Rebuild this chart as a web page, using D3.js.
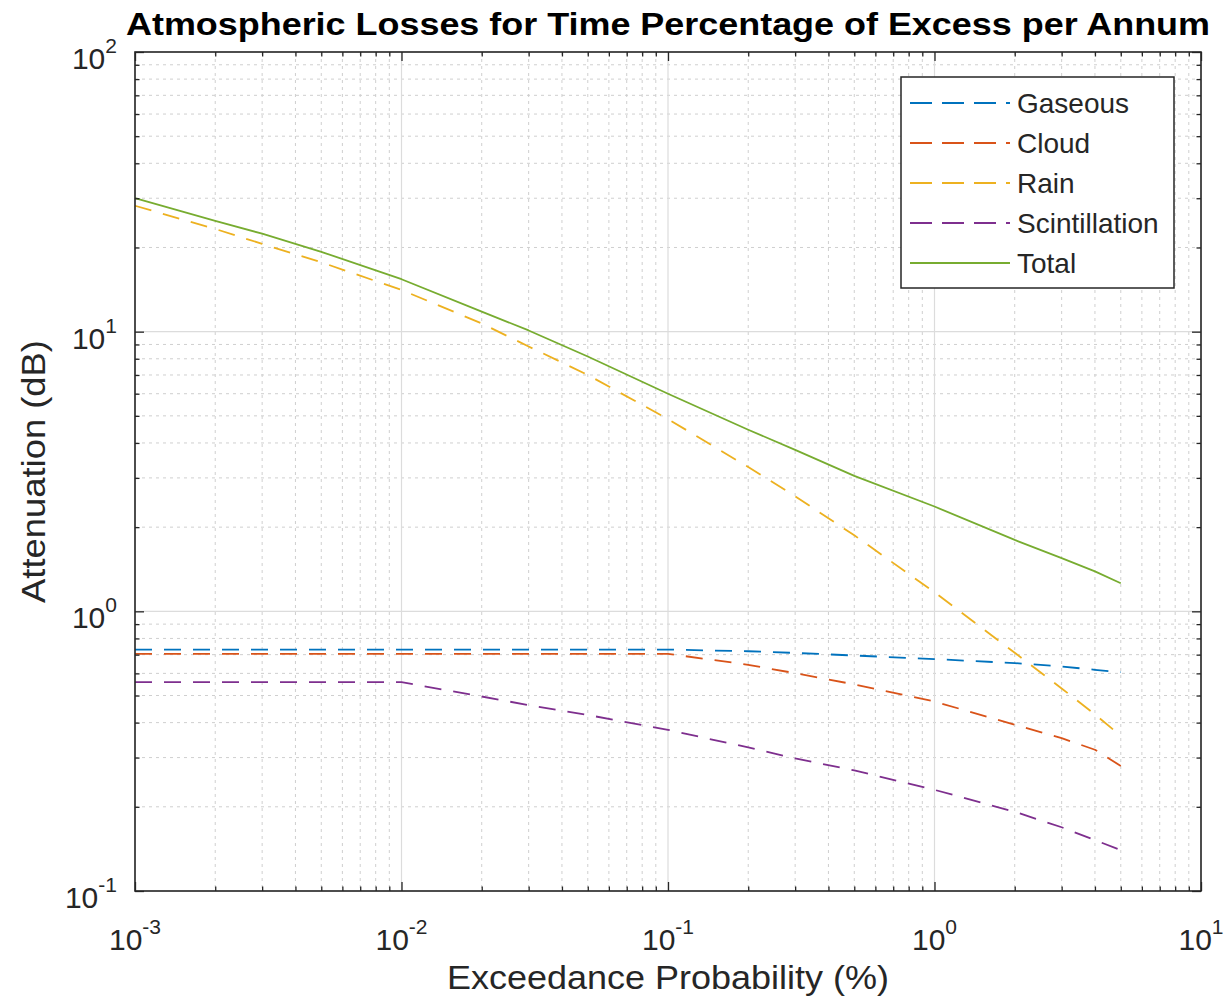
<!DOCTYPE html>
<html>
<head>
<meta charset="utf-8">
<script src="https://cdn.jsdelivr.net/npm/d3@7"></script>
<style>
  html, body { margin: 0; padding: 0; background: #ffffff; }
  svg { display: block; }
  text { font-family: "Liberation Sans", Arial, Helvetica, sans-serif; }
</style>
</head>
<body>
<svg id="chart" width="1228" height="1006"></svg>
<script>
// ---- data ----
const exceedance = [0.001, 0.002, 0.003, 0.005, 0.01, 0.02, 0.03, 0.05, 0.1, 0.2, 0.3, 0.5, 1, 2, 3, 4, 5];
const gaseous = [0.73, 0.73, 0.73, 0.73, 0.73, 0.73, 0.73, 0.73, 0.73, 0.72, 0.71, 0.695, 0.675, 0.653, 0.635, 0.618, 0.606];
const cloud = [0.705, 0.705, 0.705, 0.705, 0.705, 0.705, 0.705, 0.705, 0.705, 0.644, 0.601, 0.548, 0.476, 0.393, 0.352, 0.32, 0.28];
const rain = [28.2, 23.3, 20.6, 17.7, 14.1, 10.7, 8.85, 7.0, 4.87, 3.28, 2.58, 1.87, 1.17, 0.711, 0.53, 0.428, 0.359];
const scintillation = [0.558, 0.558, 0.558, 0.558, 0.558, 0.496, 0.462, 0.426, 0.377, 0.326, 0.298, 0.270, 0.230, 0.192, 0.169, 0.152, 0.140];
const total = [30.0, 24.9, 22.4, 19.3, 15.4, 11.8, 10.1, 8.15, 6.0, 4.46, 3.78, 3.05, 2.37, 1.80, 1.55, 1.39, 1.26];

const seriesNames = ["Gaseous", "Cloud", "Rain", "Scintillation", "Total"];
const seriesValues = [gaseous, cloud, rain, scintillation, total];
const seriesColors = ["#0072BD", "#D95319", "#EDB120", "#7E2F8E", "#77AC30"];
const seriesDashed = [true, true, true, true, false];

const xTickExps = [-3, -2, -1, 0, 1];
const yTickExps = [-1, 0, 1, 2];

const titleText = "Atmospheric Losses for Time Percentage of Excess per Annum";
const xLabelText = "Exceedance Probability (%)";
const yLabelText = "Attenuation (dB)";

// ---- layout ----
const L = 135, R = 1201, T = 52, B = 891;
const svg = d3.select("#chart");
const x = d3.scaleLog().domain([1e-3, 1e1]).range([L, R]);
const y = d3.scaleLog().domain([1e-1, 1e2]).range([B, T]);

const axisColor = "#262626";

function minors(lo, hi) {
  const out = [];
  for (let e = lo; e < hi; e++) for (let m = 2; m <= 9; m++) out.push(m * Math.pow(10, e));
  return out;
}
const xMinor = minors(-3, 1);
const yMinor = minors(-1, 2);
const xMajor = xTickExps.map(e => Math.pow(10, e));
const yMajor = yTickExps.map(e => Math.pow(10, e));

const g = svg.append("g");

// minor grid
g.append("g").selectAll("line").data(xMinor).join("line")
  .attr("x1", d => x(d)).attr("x2", d => x(d)).attr("y1", T).attr("y2", B)
  .attr("stroke", "#cfcfcf").attr("stroke-width", 1).attr("stroke-dasharray", "3,4");
g.append("g").selectAll("line").data(yMinor).join("line")
  .attr("y1", d => y(d)).attr("y2", d => y(d)).attr("x1", L).attr("x2", R)
  .attr("stroke", "#cfcfcf").attr("stroke-width", 1).attr("stroke-dasharray", "3,4");
// major grid
g.append("g").selectAll("line").data(xMajor).join("line")
  .attr("x1", d => x(d)).attr("x2", d => x(d)).attr("y1", T).attr("y2", B)
  .attr("stroke", "#dcdcdc").attr("stroke-width", 1.2);
g.append("g").selectAll("line").data(yMajor).join("line")
  .attr("y1", d => y(d)).attr("y2", d => y(d)).attr("x1", L).attr("x2", R)
  .attr("stroke", "#dcdcdc").attr("stroke-width", 1.2);

// series lines
const line = d3.line().x(d => x(d[0])).y(d => y(d[1]));
seriesValues.forEach((vals, i) => {
  const pts = exceedance.map((p, j) => [p, vals[j]]);
  svg.append("path").datum(pts)
    .attr("d", line)
    .attr("fill", "none")
    .attr("stroke", seriesColors[i])
    .attr("stroke-width", 1.8)
    .attr("stroke-linejoin", "round")
    .attr("stroke-dasharray", seriesDashed[i] ? "17,12" : null);
});

// axes (inward ticks on all sides)
const majorLen = 9, minorLen = 4.5;
function drawAxis(axisGen, tx, ty) {
  const a = svg.append("g").attr("transform", `translate(${tx},${ty})`).call(axisGen);
  a.selectAll("text").remove();
  a.select(".domain").remove();
  a.selectAll("line").attr("stroke", axisColor).attr("stroke-width", 1.3);
  return a;
}
drawAxis(d3.axisBottom(x).tickValues(xMajor).tickSize(-majorLen), 0, B);
drawAxis(d3.axisBottom(x).tickValues(xMinor).tickSize(-minorLen), 0, B);
drawAxis(d3.axisTop(x).tickValues(xMajor).tickSize(-majorLen), 0, T);
drawAxis(d3.axisTop(x).tickValues(xMinor).tickSize(-minorLen), 0, T);
drawAxis(d3.axisLeft(y).tickValues(yMajor).tickSize(-majorLen), L, 0);
drawAxis(d3.axisLeft(y).tickValues(yMinor).tickSize(-minorLen), L, 0);
drawAxis(d3.axisRight(y).tickValues(yMajor).tickSize(-majorLen), R, 0);
drawAxis(d3.axisRight(y).tickValues(yMinor).tickSize(-minorLen), R, 0);

// box
svg.append("rect").attr("x", L).attr("y", T).attr("width", R - L).attr("height", B - T)
  .attr("fill", "none").attr("stroke", axisColor).attr("stroke-width", 1.6);

// tick labels
const tickFont = 30, supFont = 21;
xTickExps.forEach(e => {
  const t = svg.append("text")
    .attr("x", x(Math.pow(10, e))).attr("y", 950)
    .attr("text-anchor", "middle").attr("fill", axisColor)
    .attr("font-size", tickFont);
  t.append("tspan").text("10");
  t.append("tspan").attr("dy", -16).attr("font-size", supFont).text(String(e));
});
yTickExps.forEach(e => {
  const t = svg.append("text")
    .attr("x", 117).attr("y", y(Math.pow(10, e)) + 17)
    .attr("text-anchor", "end").attr("fill", axisColor)
    .attr("font-size", tickFont);
  t.append("tspan").text("10");
  t.append("tspan").attr("dy", -16).attr("font-size", supFont).text(String(e));
});

// title
svg.append("text").attr("x", (L + R) / 2).attr("y", 35)
  .attr("text-anchor", "middle").attr("font-weight", "bold").attr("font-size", 31)
  .attr("fill", "#000000")
  .attr("textLength", 1084).attr("lengthAdjust", "spacingAndGlyphs")
  .text(titleText);

// axis labels
svg.append("text").attr("x", (L + R) / 2).attr("y", 989)
  .attr("text-anchor", "middle").attr("font-size", 33).attr("fill", axisColor)
  .attr("textLength", 442).attr("lengthAdjust", "spacingAndGlyphs")
  .text(xLabelText);
svg.append("text")
  .attr("transform", `translate(45,${(T + B) / 2}) rotate(-90)`)
  .attr("text-anchor", "middle").attr("font-size", 33).attr("fill", axisColor)
  .attr("textLength", 263).attr("lengthAdjust", "spacingAndGlyphs")
  .text(yLabelText);

// legend
const lgX = 901, lgY = 77, lgW = 273, lgH = 211;
const lg = svg.append("g");
lg.append("rect").attr("x", lgX).attr("y", lgY).attr("width", lgW).attr("height", lgH)
  .attr("fill", "#ffffff").attr("stroke", axisColor).attr("stroke-width", 1.5);
const rowY = d3.scaleLinear().domain([0, seriesNames.length - 1]).range([103, 263]);
seriesNames.forEach((name, i) => {
  const yy = rowY(i);
  lg.append("line").attr("x1", 910).attr("x2", 1010).attr("y1", yy).attr("y2", yy)
    .attr("stroke", seriesColors[i]).attr("stroke-width", 1.8)
    .attr("stroke-dasharray", seriesDashed[i] ? "22,10" : null);
  lg.append("text").attr("x", 1017).attr("y", yy + 10)
    .attr("font-size", 28).attr("fill", axisColor).text(name);
});
</script>
</body>
</html>
